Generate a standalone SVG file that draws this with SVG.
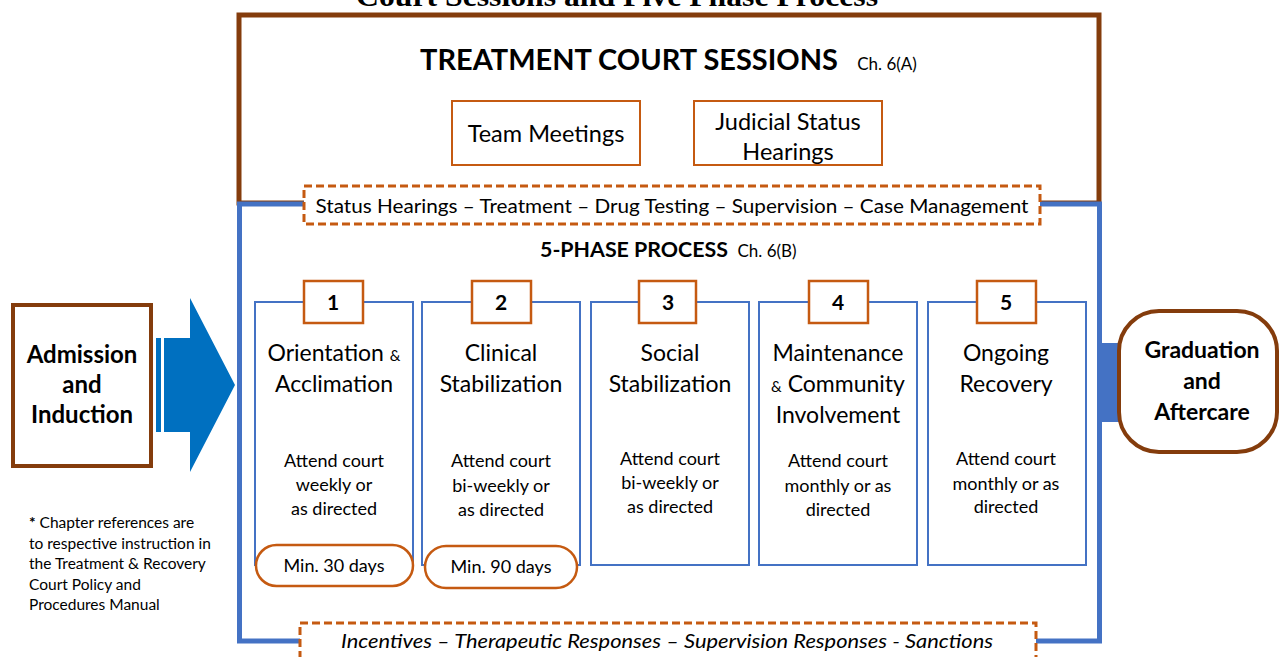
<svg xmlns="http://www.w3.org/2000/svg" width="1280" height="657" viewBox="0 0 1280 657">
<style>
text{font-family:Lato,"Open Sans","Liberation Sans",sans-serif;fill:#000;text-anchor:middle}
.b{font-weight:bold}
.phase{fill:#fff;stroke:#4472C4;stroke-width:2}
.num{fill:#fff;stroke:#C55A11;stroke-width:2.5}
.pill{fill:#fff;stroke:#C55A11;stroke-width:2.5}
.obox{fill:#fff;stroke:#C55A11;stroke-width:2}
.dash{fill:#fff;stroke:#C55A11;stroke-width:3;stroke-dasharray:8 4}
.t1{font-size:23px}
.t2{font-size:18px}
.n{font-size:21px;font-weight:bold}
.fn{font-size:15.5px;text-anchor:start}
</style>
<rect width="1280" height="657" fill="#fff"/>
<text x="617" y="6" style="font-family:'Liberation Serif',serif;font-size:29px;font-weight:bold" textLength="522" lengthAdjust="spacingAndGlyphs">Court Sessions and Five Phase Process</text>

<g id="court-sessions">
<rect x="239" y="15" width="860" height="188" fill="#fff" stroke="#843C0C" stroke-width="5"/>
<text x="629" y="70" class="b" style="font-size:29px" textLength="418" lengthAdjust="spacingAndGlyphs">TREATMENT COURT SESSIONS</text>
<text x="887" y="70" style="font-size:17px">Ch. 6(A)</text>
</g>

<g id="process">
<rect x="239.5" y="204" width="860" height="437" fill="#fff" stroke="#4472C4" stroke-width="5"/>
<text x="634" y="257" class="b" style="font-size:21px" textLength="188" lengthAdjust="spacingAndGlyphs">5-PHASE PROCESS</text>
<text x="767" y="257" style="font-size:17px">Ch. 6(B)</text>
</g>

<g id="team-meetings">
<rect class="obox" x="452" y="101" width="188" height="64"/>
<text x="546" y="142" style="font-size:23.5px">Team Meetings</text>
</g>
<g id="judicial-status">
<rect class="obox" x="694" y="101" width="188" height="64"/>
<text x="788" y="130" style="font-size:23.5px">Judicial Status</text>
<text x="788" y="160" style="font-size:23.5px">Hearings</text>
</g>

<g id="status-bar">
<rect class="dash" x="304" y="186" width="736" height="38"/>
<text x="672" y="213" style="font-size:19.5px" textLength="713" lengthAdjust="spacingAndGlyphs">Status Hearings – Treatment – Drug Testing – Supervision – Case Management</text>
</g>

<g id="admission">
<rect x="13" y="305" width="138" height="161" fill="#fff" stroke="#843C0C" stroke-width="4"/>
<text x="82" y="363" class="b" style="font-size:24px">Admission</text>
<text x="82" y="393" class="b" style="font-size:24px">and</text>
<text x="82" y="423" class="b" style="font-size:24px">Induction</text>
</g>

<g id="connectors">
<rect x="156" y="338" width="5" height="94" fill="#0070C0"/>
<polygon points="164,338 190,338 190,298 235,385 190,472 190,432 164,432" fill="#0070C0"/>
<rect x="1101" y="343" width="20" height="79" fill="#4472C4"/>
</g>

<g id="phase-1">
<rect class="phase" x="255" y="302" width="158" height="263"/>
<rect class="num" x="304" y="281" width="59" height="42"/>
<text x="333" y="310" class="n">1</text>
<text x="334" y="361" class="t1">Orientation <tspan style="font-size:15px">&amp;</tspan></text>
<text x="334" y="392" class="t1">Acclimation</text>
<text x="334" y="467" class="t2">Attend court</text>
<text x="334" y="491" class="t2">weekly or</text>
<text x="334" y="515" class="t2">as directed</text>
<rect class="pill" x="256" y="545" width="157" height="41" rx="20.5"/>
<text x="334" y="572" class="t2">Min. 30 days</text>
</g>

<g id="phase-2">
<rect class="phase" x="422" y="302" width="158" height="263"/>
<rect class="num" x="472" y="281" width="59" height="42"/>
<text x="501" y="310" class="n">2</text>
<text x="501" y="361" class="t1">Clinical</text>
<text x="501" y="392" class="t1">Stabilization</text>
<text x="501" y="467" class="t2">Attend court</text>
<text x="501" y="492" class="t2">bi-weekly or</text>
<text x="501" y="516" class="t2">as directed</text>
<rect class="pill" x="425" y="546" width="152" height="42" rx="21"/>
<text x="501" y="573" class="t2">Min. 90 days</text>
</g>

<g id="phase-3">
<rect class="phase" x="591" y="302" width="158" height="263"/>
<rect class="num" x="639" y="281" width="57" height="42"/>
<text x="668" y="310" class="n">3</text>
<text x="670" y="361" class="t1">Social</text>
<text x="670" y="392" class="t1">Stabilization</text>
<text x="670" y="465" class="t2">Attend court</text>
<text x="670" y="489" class="t2">bi-weekly or</text>
<text x="670" y="513" class="t2">as directed</text>
</g>

<g id="phase-4">
<rect class="phase" x="759" y="302" width="158" height="263"/>
<rect class="num" x="809" y="281" width="59" height="42"/>
<text x="838" y="310" class="n">4</text>
<text x="838" y="361" class="t1">Maintenance</text>
<text x="838" y="392" class="t1"><tspan style="font-size:15px">&amp;</tspan> Community</text>
<text x="838" y="423" class="t1">Involvement</text>
<text x="838" y="467" class="t2">Attend court</text>
<text x="838" y="492" class="t2">monthly or as</text>
<text x="838" y="516" class="t2">directed</text>
</g>

<g id="phase-5">
<rect class="phase" x="928" y="302" width="158" height="263"/>
<rect class="num" x="977" y="281" width="59" height="42"/>
<text x="1006" y="310" class="n">5</text>
<text x="1006" y="361" class="t1">Ongoing</text>
<text x="1006" y="392" class="t1">Recovery</text>
<text x="1006" y="465" class="t2">Attend court</text>
<text x="1006" y="490" class="t2">monthly or as</text>
<text x="1006" y="513" class="t2">directed</text>
</g>

<g id="graduation">
<rect x="1119" y="311" width="158" height="141" rx="40" ry="40" fill="#fff" stroke="#843C0C" stroke-width="4"/>
<text x="1202" y="358" class="b" style="font-size:23px">Graduation</text>
<text x="1202" y="389" class="b" style="font-size:23px">and</text>
<text x="1202" y="420" class="b" style="font-size:23px">Aftercare</text>
</g>

<g id="responses-bar">
<rect class="dash" x="300" y="623" width="736" height="50"/>
<text x="667" y="648" style="font-size:19.5px;font-style:italic" textLength="652" lengthAdjust="spacingAndGlyphs">Incentives – Therapeutic Responses – Supervision Responses - Sanctions</text>
</g>

<g id="footnote">
<text x="29" y="528" class="fn"><tspan style="font-weight:bold">*</tspan>  Chapter references are</text>
<text x="29" y="549" class="fn">to respective instruction in</text>
<text x="29" y="569" class="fn">the Treatment &amp; Recovery</text>
<text x="29" y="590" class="fn">Court Policy and</text>
<text x="29" y="610" class="fn">Procedures Manual</text>
</g>
</svg>
